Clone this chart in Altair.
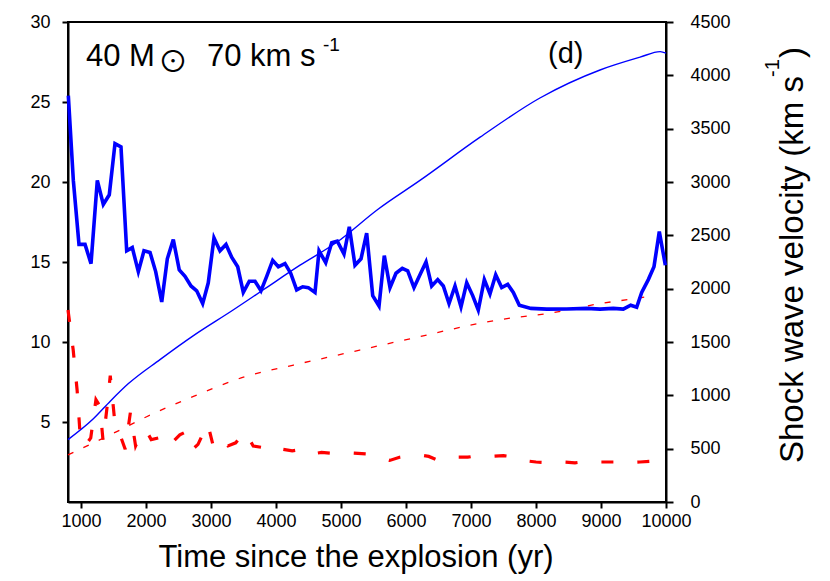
import altair as alt
import pandas as pd

# ---------------- data ----------------
# thick blue: shock wave velocity (km/s), right axis
vel_t = [805, 882, 969, 1062, 1154, 1251, 1343, 1435, 1523, 1615, 1703, 1789, 1882,
         1969, 2062, 2149, 2242, 2328, 2420, 2512, 2600, 2692, 2780, 2872, 2958, 3046,
         3138, 3231, 3318, 3411, 3497, 3589, 3677, 3769, 3857, 3949, 4036, 4138, 4226,
         4318, 4411, 4497, 4600, 4662, 4765, 4857, 4943, 5046, 5128, 5215, 5308, 5395,
         5488, 5585, 5666, 5754, 5846, 5943, 6026, 6123, 6215, 6308, 6395, 6488, 6574,
         6662, 6754, 6846, 6934, 7026, 7112, 7205, 7292, 7380, 7472, 7565, 7651, 7743,
         7923, 8165, 8472, 8780, 8985, 9189, 9343, 9457, 9549, 9626, 9728, 9815, 9897,
         9990]
vel_v = [3810, 3015, 2415, 2415, 2235, 3015, 2790, 2880, 3360, 3330, 2355, 2385, 2160,
         2355, 2340, 2160, 1875, 2280, 2460, 2175, 2115, 2025, 1980, 1860, 2055, 2475,
         2355, 2415, 2295, 2205, 1965, 2070, 2070, 1980, 2115, 2265, 2205, 2235, 2145,
         1988, 2018, 2010, 1965, 2355, 2244, 2430, 2445, 2325, 2580, 2220, 2280, 2520,
         1935, 1838, 2310, 2010, 2145, 2190, 2168, 2010, 2130, 2250, 2025, 2085, 2025,
         1860, 2025, 1830, 2055, 1935, 1800, 2085, 1950, 2130, 2010, 2040, 1965, 1845,
         1815, 1808, 1809, 1815, 1808, 1815, 1808, 1845, 1826, 1965, 2085, 2205, 2535,
         2220]

# thin blue: left axis
rad_t = [800, 1190, 1450, 1730, 2215, 2730, 3340, 3800, 4370, 4940, 5570, 6215, 7140,
         8060, 8985, 9600, 9910, 10000]
rad_v = [3.9, 5.2, 6.3, 7.4, 8.9, 10.4, 12.0, 13.25, 14.8, 16.25, 18.3, 20.1, 22.8,
         25.25, 27.0, 27.8, 28.15, 28.05]

# thin red dashed: left axis
tr_t = [800, 1550, 2010, 2730, 3500, 4270, 4860, 6060, 7450, 8215, 8985, 9500, 9830]
tr_v = [2.94, 4.4, 5.33, 6.6, 7.8, 8.56, 9.1, 10.2, 11.4, 11.8, 12.4, 12.7, 12.9]

# thick red dashed: left axis
kr_t = [800, 880, 940, 990, 1060, 1150, 1230, 1290, 1340, 1400, 1450, 1520, 1600, 1680,
        1760, 1840, 1930, 2000, 2080, 2190, 2300, 2400, 2520, 2620, 2720, 2800, 2950,
        3040, 3150, 3260, 3380, 3520, 3650, 3800, 3950, 4100, 4250, 4400, 4550, 4700,
        4850, 5000, 5200, 5400, 5600, 5750, 5900, 6050, 6200, 6350, 6500, 6650, 6800,
        6950, 7100, 7300, 7500, 7700, 7800, 8000, 8200, 8400, 8600, 8800, 9000, 9200,
        9400, 9600, 9800, 10000]
kr_v = [12.0, 9.5, 7.0, 4.0, 3.5, 4.0, 6.4, 6.0, 3.8, 5.9, 7.9, 5.0, 4.2, 3.3,
        5.6, 3.5, 4.3, 4.5, 3.9, 4.0, 4.3, 3.7, 4.2, 4.4, 3.3, 3.6, 4.9,
        3.4, 3.9, 3.5, 3.7, 4.4, 3.5, 3.4, 3.6, 3.3, 3.2, 3.3, 3.0, 3.1,
        3.05, 3.1, 3.05, 3.0, 2.8, 2.6, 2.8, 2.9, 2.95, 2.85, 2.6, 2.8, 2.8,
        2.8, 2.9, 2.85, 2.9, 2.8, 2.6, 2.5, 2.45, 2.5, 2.45, 2.55, 2.5, 2.5,
        2.45, 2.5, 2.55, 2.5]

x_ticks = [1000, 2000, 3000, 4000, 5000, 6000, 7000, 8000, 9000, 10000]
left_ticks = [5, 10, 15, 20, 25, 30]
right_ticks = [0, 500, 1000, 1500, 2000, 2500, 3000, 3500, 4000, 4500]

FONT = "Liberation Sans"

df_vel = pd.DataFrame({"t": vel_t, "v": vel_v})
df_rad = pd.DataFrame({"t": rad_t, "v": rad_v})
df_tr = pd.DataFrame({"t": tr_t, "v": tr_v})
df_kr = pd.DataFrame({"t": kr_t, "v": kr_v})

xscale = alt.Scale(domain=[800, 10000], nice=False, zero=False)
xaxis = alt.Axis(values=x_ticks, title=None, format="d", labelFontSize=18, labelFont=FONT,
                 labelColor="black", tickSize=6, tickWidth=2, tickColor="black",
                 domainWidth=2, domainColor="black", labelPadding=4, grid=False,
                 labelFlush=False, labelOverlap=False)
lscale = alt.Scale(domain=[0, 30], nice=False, zero=False)
laxis = alt.Axis(values=left_ticks, title=None, format="d", labelFontSize=18, labelFont=FONT,
                 labelColor="black", tickSize=6, tickWidth=2, tickColor="black",
                 domainWidth=2, domainColor="black", labelPadding=12, grid=False)
rscale = alt.Scale(domain=[0, 4500], nice=False, zero=False)
raxis = alt.Axis(values=right_ticks, title=None, orient="right", format="d", labelFontSize=18,
                 labelFont=FONT, labelColor="black", tickSize=7, tickWidth=2,
                 tickColor="black", domainWidth=2, domainColor="black",
                 labelPadding=17, grid=False, labelFlush=False)

rad = alt.Chart(df_rad).mark_line(color="#0000ff", strokeWidth=1.4, interpolate="monotone").encode(
    x=alt.X("t:Q", scale=xscale, axis=xaxis),
    y=alt.Y("v:Q", scale=lscale, axis=laxis),
)
tr = alt.Chart(df_tr).mark_line(color="#ff0000", strokeWidth=1.3, strokeDash=[6, 11],
                                interpolate="monotone").encode(
    x=alt.X("t:Q", scale=xscale), y=alt.Y("v:Q", scale=lscale)
)
kr = alt.Chart(df_kr).mark_line(color="#ff0000", strokeWidth=3.2, strokeDash=[12, 24]).encode(
    x=alt.X("t:Q", scale=xscale), y=alt.Y("v:Q", scale=lscale)
)
left = alt.layer(kr, tr, rad)

vel = alt.Chart(df_vel).mark_line(color="#0000ff", strokeWidth=3.6, strokeJoin="miter").encode(
    x=alt.X("t:Q", scale=xscale),
    y=alt.Y("v:Q", scale=rscale, axis=raxis),
)

one = pd.DataFrame({"a": [0]})


def txt(s, x, y, size, align="left", baseline="alphabetic", angle=0, font=FONT):
    return alt.Chart(one).mark_text(text=s, fontSize=size, font=font, align=align,
                                    baseline=baseline, angle=angle, color="black").encode(
        x=alt.value(x), y=alt.value(y))


texts = [
    txt("40 M", 18, 44, 31),
    txt("\u2299", 105, 41, 30, align="center", baseline="middle", font="Noto Sans CJK SC"),
    txt("70 km s", 139, 44, 31),
    txt("-1", 255, 29, 19),
    txt("(d)", 480, 41, 29),
    txt("Time since the explosion (yr)", 288, 545, 31, align="center"),
    txt("Shock wave velocity (km s", 735, 441, 33, angle=270),
    txt("-1", 711, 55, 20, angle=270),
    txt(")", 735, 36, 33, angle=270),
]

chart = alt.layer(
    alt.layer(left, vel).resolve_scale(y="independent"),
    *texts
).properties(
    width=598, height=480,
    autosize=alt.AutoSizeParams(type="none"),
    padding={"left": 60, "top": 14, "right": 156, "bottom": 73},
).configure_view(stroke="black", strokeWidth=2)

chart.save("out.html", embed_options={"renderer": "svg", "actions": False})
